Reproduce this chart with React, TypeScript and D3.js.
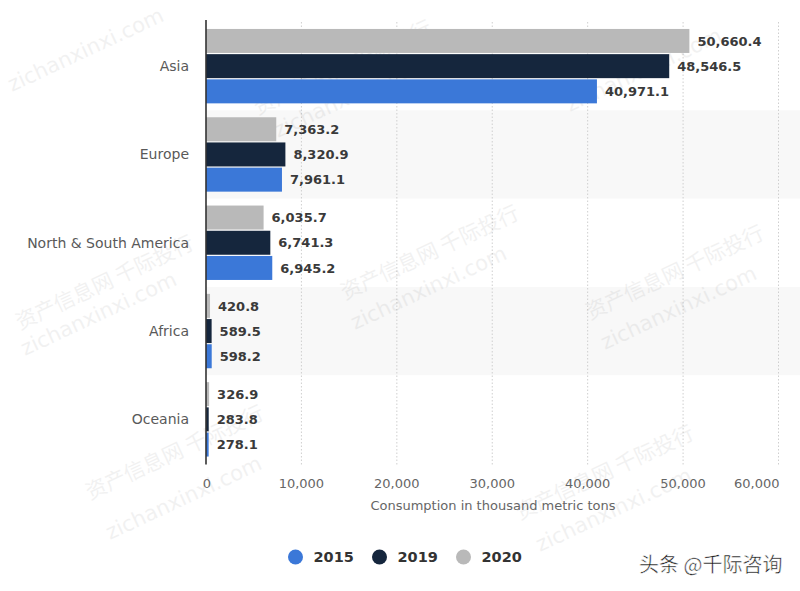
import React from "react";
import * as d3 from "d3";

const categories = ["Asia", "Europe", "North & South America", "Africa", "Oceania"];
const years = ["2020", "2019", "2015"];
const values2020 = [50660.4, 7363.2, 6035.7, 420.8, 326.9];
const values2019 = [48546.5, 8320.9, 6741.3, 589.5, 283.8];
const values2015 = [40971.1, 7961.1, 6945.2, 598.2, 278.1];
const xTicks = [0, 10000, 20000, 30000, 40000, 50000, 60000];
const legendYears = ["2015", "2019", "2020"];
const colors: Record<string, string> = { "2015": "#3b78d8", "2019": "#15263d", "2020": "#b9b9b9" };
const axisTitle = "Consumption in thousand metric tons";
const credit = "头条 @千际咨询";
const wmCn = "资产信息网 千际投行";
const wmEn = "zichanxinxi.com";

const W = 800, H = 591;
const left = 206, right = 778.5, top = 22, bottom = 463.5;
const font = "'DejaVu Sans', sans-serif";

export default function App() {
  const x = d3.scaleLinear().domain([0, 60000]).range([left, right]);
  const y = d3.scaleBand<string>().domain(categories).range([top, bottom]);
  const barH = 24, gap = 1.2;
  const seriesByYear: Record<string, number[]> = { "2020": values2020, "2019": values2019, "2015": values2015 };
  const fmt = d3.format(",.1f");
  const tfmt = d3.format(",");

  const watermarks = [
    { x: 258, y: 115, t: wmCn }, { x: 278, y: 138, t: wmEn },
    { x: 20, y: 330, t: wmCn }, { x: 25, y: 356, t: wmEn },
    { x: 345, y: 300, t: wmCn }, { x: 355, y: 330, t: wmEn },
    { x: 590, y: 320, t: wmCn }, { x: 605, y: 350, t: wmEn },
    { x: 90, y: 500, t: wmCn }, { x: 110, y: 540, t: wmEn },
    { x: 520, y: 520, t: wmCn }, { x: 540, y: 552, t: wmEn },
    { x: 12, y: 92, t: wmEn }, { x: 570, y: 112, t: wmEn },
  ];

  return (
    <div style={{ position: "absolute", left: 0, top: 0 }}>
      <svg width={W} height={H} style={{ display: "block", background: "#fff" }}>
        {/* alternating bands */}
        {categories.map((c, i) =>
          i % 2 === 1 ? (
            <rect key={"band" + c} x={left} y={y(c)!} width={W - left} height={y.bandwidth()} fill="#f8f8f8" />
          ) : null
        )}
        {/* grid lines */}
        {xTicks.slice(1).map((t) => (
          <line key={"g" + t} x1={x(t)} x2={x(t)} y1={top} y2={bottom + 1} stroke="#cfcfcf" strokeDasharray="1.5,2" />
        ))}
        {/* watermarks */}
        {watermarks.map((w, i) => (
          <text
            key={"wm" + i}
            x={w.x}
            y={w.y}
            transform={`rotate(-25 ${w.x} ${w.y})`}
            fontFamily={w.t === wmCn ? "'Noto Sans CJK SC', sans-serif" : font}
            fontSize={21}
            fill="#000"
            opacity={0.05}
          >
            {w.t}
          </text>
        ))}
        {/* bars */}
        {categories.map((c, i) => {
          const center = y(c)! + y.bandwidth() / 2;
          const groupH = barH * 3 + gap * 2;
          return years.map((yr, j) => {
            const v = seriesByYear[yr][i];
            const by = center - groupH / 2 + j * (barH + gap);
            return (
              <g key={c + yr}>
                <rect x={x(0)} y={by} width={x(v) - x(0)} height={barH} fill={colors[yr]} />
                <text
                  x={x(v) + 8}
                  y={by + barH / 2}
                  dy="0.36em"
                  fontFamily={font}
                  fontSize={13}
                  fontWeight="bold"
                  fill="#3a3a3a"
                >
                  {fmt(v)}
                </text>
              </g>
            );
          });
        })}
        {/* y axis line */}
        <line x1={left} x2={left} y1={top - 2} y2={bottom + 1} stroke="#333" strokeWidth={1.6} />
        {/* category labels */}
        {categories.map((c) => (
          <text
            key={"l" + c}
            x={189}
            y={y(c)! + y.bandwidth() / 2}
            dy="0.36em"
            textAnchor="end"
            fontFamily={font}
            fontSize={14}
            fill="#595959"
          >
            {c}
          </text>
        ))}
        {/* x tick labels */}
        {xTicks.map((t, i) => (
          <text
            key={"t" + t}
            x={i === xTicks.length - 1 ? x(t) + 1 : x(t) + (i === 0 ? 1 : 0)}
            y={483}
            dy="0.36em"
            textAnchor={i === xTicks.length - 1 ? "end" : "middle"}
            fontFamily={font}
            fontSize={13}
            fill="#666"
          >
            {tfmt(t)}
          </text>
        ))}
        <text x={493} y={505} dy="0.36em" textAnchor="middle" fontFamily={font} fontSize={13} fill="#666">
          {axisTitle}
        </text>
        {/* legend */}
        {legendYears.map((yr, i) => {
          const lx = 295.5 + i * 84;
          return (
            <g key={"lg" + yr}>
              <circle cx={lx} cy={557} r={7.5} fill={colors[yr]} />
              <text x={lx + 18} y={557} dy="0.36em" fontFamily={font} fontSize={14.5} fontWeight="bold" fill="#333">
                {yr}
              </text>
            </g>
          );
        })}
        {/* credit */}
        <text
          x={639}
          y={565}
          dy="0.36em"
          fontFamily="'Noto Sans CJK SC', sans-serif"
          fontSize={20}
          fill="#1a1a1a"
          stroke="#fff"
          strokeWidth={0.5}
        >
          {credit}
        </text>
      </svg>
    </div>
  );
}
